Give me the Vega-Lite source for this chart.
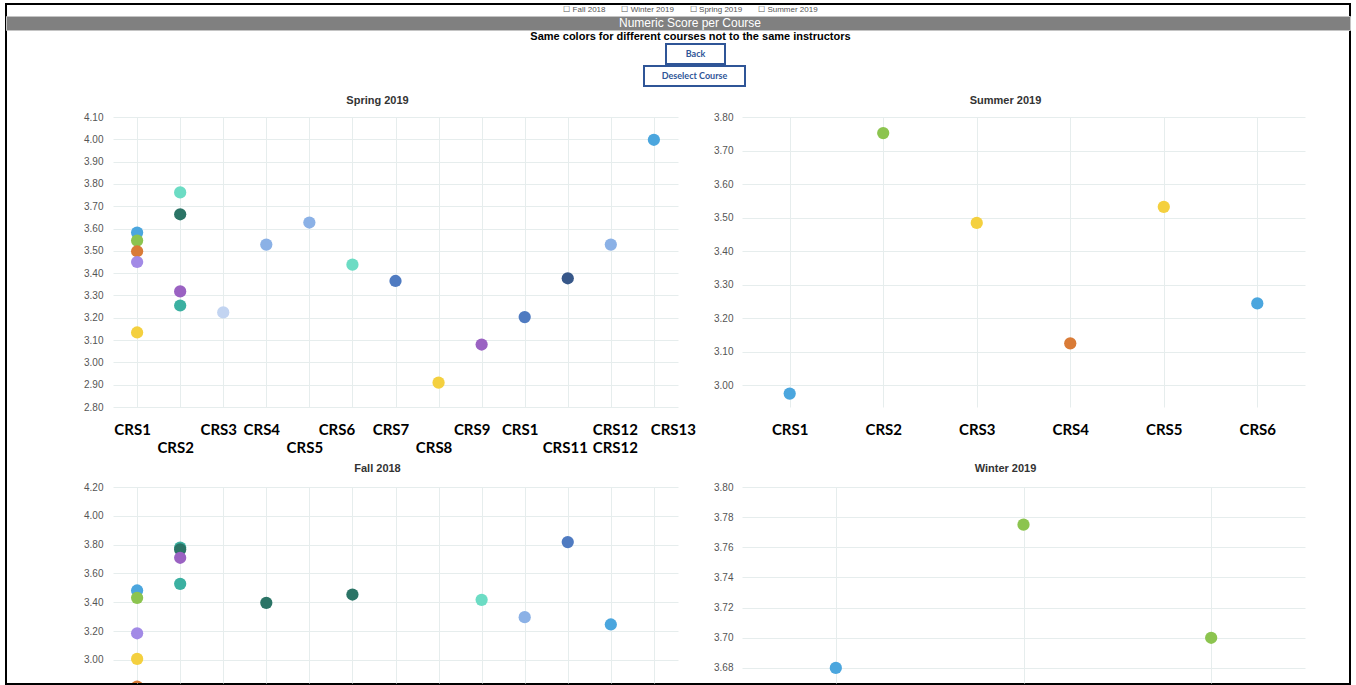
{
  "$schema": "https://vega.github.io/schema/vega-lite/v6.json",
  "padding": {"left": 5, "top": 3, "right": 0, "bottom": 0},
  "background": "white",
  "config": {
    "view": {"stroke": null},
    "title": {"font": "Liberation Sans", "fontSize": 11, "fontWeight": "bold", "color": "#333333"},
    "axis": {"domain": false, "ticks": false, "tickSize": 0, "gridColor": "#e6eded", "gridWidth": 1},
    "axisY": {"labelFont": "Liberation Sans", "labelFontSize": 10, "labelColor": "#555555", "labelPadding": 10},
    "axisX": {"labelFont": "Lato", "labelFontSize": 15, "labelFontWeight": "bold", "labelColor": "#000000", "labelPadding": 15, "labelLineHeight": 18, "labelOverlap": false, "labelBound": false, "labelAngle": 0, "grid": true}
  },
  "datasets": {
    "scores": [
      {"term": "Spring 2019", "course": "CRS1", "instructor": "I1", "score": 3.582},
      {"term": "Spring 2019", "course": "CRS1", "instructor": "I2", "score": 3.546},
      {"term": "Spring 2019", "course": "CRS1", "instructor": "I3", "score": 3.498},
      {"term": "Spring 2019", "course": "CRS1", "instructor": "I4", "score": 3.45},
      {"term": "Spring 2019", "course": "CRS1", "instructor": "I5", "score": 3.134},
      {"term": "Spring 2019", "course": "CRS2", "instructor": "I6", "score": 3.762},
      {"term": "Spring 2019", "course": "CRS2", "instructor": "I7", "score": 3.664},
      {"term": "Spring 2019", "course": "CRS2", "instructor": "I8", "score": 3.318},
      {"term": "Spring 2019", "course": "CRS2", "instructor": "I9", "score": 3.255},
      {"term": "Spring 2019", "course": "CRS3", "instructor": "I10", "score": 3.224},
      {"term": "Spring 2019", "course": "CRS4", "instructor": "I11", "score": 3.528},
      {"term": "Spring 2019", "course": "CRS5", "instructor": "I11", "score": 3.627},
      {"term": "Spring 2019", "course": "CRS6", "instructor": "I6", "score": 3.438},
      {"term": "Spring 2019", "course": "CRS7", "instructor": "I12", "score": 3.365},
      {"term": "Spring 2019", "course": "CRS8", "instructor": "I5", "score": 2.909},
      {"term": "Spring 2019", "course": "CRS9", "instructor": "I8", "score": 3.08},
      {"term": "Spring 2019", "course": "CRS10", "instructor": "I12", "score": 3.203},
      {"term": "Spring 2019", "course": "CRS11", "instructor": "I13", "score": 3.377},
      {"term": "Spring 2019", "course": "CRS12", "instructor": "I11", "score": 3.528},
      {"term": "Spring 2019", "course": "CRS13", "instructor": "I1", "score": 3.998},
      {"term": "Summer 2019", "course": "CRS1", "instructor": "I1", "score": 2.975},
      {"term": "Summer 2019", "course": "CRS2", "instructor": "I2", "score": 3.752},
      {"term": "Summer 2019", "course": "CRS3", "instructor": "I5", "score": 3.484},
      {"term": "Summer 2019", "course": "CRS4", "instructor": "I3", "score": 3.125},
      {"term": "Summer 2019", "course": "CRS5", "instructor": "I5", "score": 3.532},
      {"term": "Summer 2019", "course": "CRS6", "instructor": "I1", "score": 3.244},
      {"term": "Fall 2018", "course": "CRS1", "instructor": "I1", "score": 3.482},
      {"term": "Fall 2018", "course": "CRS1", "instructor": "I2", "score": 3.431},
      {"term": "Fall 2018", "course": "CRS1", "instructor": "I4", "score": 3.185},
      {"term": "Fall 2018", "course": "CRS1", "instructor": "I5", "score": 3.007},
      {"term": "Fall 2018", "course": "CRS1", "instructor": "I3", "score": 2.815},
      {"term": "Fall 2018", "course": "CRS2", "instructor": "I9", "score": 3.78},
      {"term": "Fall 2018", "course": "CRS2", "instructor": "I7", "score": 3.767},
      {"term": "Fall 2018", "course": "CRS2", "instructor": "I8", "score": 3.709},
      {"term": "Fall 2018", "course": "CRS2", "instructor": "I9", "score": 3.528},
      {"term": "Fall 2018", "course": "CRS4", "instructor": "I7", "score": 3.396},
      {"term": "Fall 2018", "course": "CRS6", "instructor": "I7", "score": 3.454},
      {"term": "Fall 2018", "course": "CRS9", "instructor": "I6", "score": 3.417},
      {"term": "Fall 2018", "course": "CRS10", "instructor": "I11", "score": 3.297},
      {"term": "Fall 2018", "course": "CRS11", "instructor": "I12", "score": 3.818},
      {"term": "Fall 2018", "course": "CRS12", "instructor": "I1", "score": 3.246},
      {"term": "Winter 2019", "course": "CRS1", "instructor": "I1", "score": 3.68},
      {"term": "Winter 2019", "course": "CRS2", "instructor": "I2", "score": 3.775},
      {"term": "Winter 2019", "course": "CRS3", "instructor": "I2", "score": 3.7}
    ]
  },
  "columns": 1,
  "align": "none",
  "spacing": -681,
  "concat": [
    {
      "width": 1344,
      "height": 680,
      "view": {"stroke": "#000000", "strokeWidth": 2},
      "data": {"values": [{"t": ""}]},
      "mark": {"type": "text"},
      "encoding": {"text": {"field": "t"}}
    },
    {
      "spacing": 8,
      "vconcat": [
        {
          "spacing": 0,
          "vconcat": [
            {
              "width": 1345,
              "height": 11,
              "data": {"values": [{"label": "☐ Fall 2018\u2003\u2003☐ Winter 2019\u2003\u2003☐ Spring 2019\u2003\u2003☐ Summer 2019"}]},
              "mark": {"type": "text", "font": "Liberation Sans", "fontSize": 8, "color": "#555555", "dx": 12},
              "encoding": {"text": {"field": "label"}}
            },
            {
              "width": 1344,
              "height": 14,
              "view": {"fill": "#808080", "stroke": "#c4c4c4", "strokeWidth": 1},
              "data": {"values": [{"label": "Numeric Score per Course"}]},
              "mark": {"type": "text", "font": "Liberation Sans", "fontSize": 12, "color": "#ffffff", "dx": 12},
              "encoding": {"text": {"field": "label"}}
            },
            {
              "width": 1345,
              "height": 12,
              "data": {"values": [{"label": "Same colors for different courses not to the same instructors"}]},
              "mark": {"type": "text", "font": "Liberation Sans Narrow, Liberation Sans", "fontSize": 11, "fontWeight": "bold", "color": "#000000", "dx": 12},
              "encoding": {"text": {"field": "label"}}
            },
            {
              "spacing": 0,
              "bounds": "flush",
              "hconcat": [
                {
                  "width": 660,
                  "height": 20,
                  "data": {"values": [{"t": ""}]},
                  "mark": {"type": "text"},
                  "encoding": {"text": {"field": "t"}}
                },
                {
                  "width": 59,
                  "height": 20,
                  "view": {"stroke": "#2F5597", "strokeWidth": 2},
                  "data": {"values": [{"label": "Back"}]},
                  "mark": {"type": "text", "font": "Lato", "fontSize": 9, "fontWeight": "bold", "color": "#2F5597"},
                  "encoding": {"text": {"field": "label"}}
                }
              ]
            },
            {
              "spacing": 0,
              "bounds": "flush",
              "hconcat": [
                {
                  "width": 638,
                  "height": 20,
                  "data": {"values": [{"t": ""}]},
                  "mark": {"type": "text"},
                  "encoding": {"text": {"field": "t"}}
                },
                {
                  "width": 101,
                  "height": 20,
                  "view": {"stroke": "#2F5597", "strokeWidth": 2},
                  "data": {"values": [{"label": "Deselect Course"}]},
                  "mark": {"type": "text", "font": "Lato", "fontSize": 9, "fontWeight": "bold", "color": "#2F5597"},
                  "encoding": {"text": {"field": "label"}}
                }
              ]
            }
          ]
        },
        {
          "spacing": 64,
          "bounds": "flush",
          "hconcat": [
            {
              "width": 43,
              "height": 10,
              "data": {"values": [{"t": ""}]},
              "mark": {"type": "text"},
              "encoding": {"text": {"field": "t"}}
            },
            {
              "width": 565,
              "height": 290,
              "title": {"text": "Spring 2019", "frame": "group", "dx": -18, "offset": 6},
              "data": {"name": "scores"},
              "transform": [{"filter": "datum.term === 'Spring 2019'"}],
              "mark": {"type": "circle", "size": 150, "opacity": 1},
              "encoding": {
                "x": {
                  "field": "course", "type": "nominal",
                  "scale": {"type": "point", "padding": 0.56, "domain": ["CRS1", "CRS2", "CRS3", "CRS4", "CRS5", "CRS6", "CRS7", "CRS8", "CRS9", "CRS10", "CRS11", "CRS12", "CRS13"]},
                  "axis": {
                    "title": null,
                    "labelExpr": "indexof(['CRS2','CRS5','CRS8','CRS11'], datum.value) >= 0 ? ['', datum.value] : datum.value === 'CRS10' ? 'CRS1' : datum.value === 'CRS12' ? ['CRS12', 'CRS12'] : datum.value",
                    "labelOffset": {"condition": [{"test": "datum.value === 'CRS6'", "value": -16}, {"test": "datum.value === 'CRS9'", "value": -10}, {"test": "datum.value === 'CRS12'", "value": 4}, {"test": "datum.value === 'CRS11'", "value": -3}, {"test": "datum.value === 'CRS13'", "value": 19}], "value": -5}
                  }
                },
                "y": {
                  "field": "score", "type": "quantitative",
                  "scale": {"domain": [2.8, 4.1], "nice": false, "zero": false},
                  "axis": {"title": null, "format": ".2f", "values": [2.8, 2.9, 3.0, 3.1, 3.2, 3.3, 3.4, 3.5, 3.6, 3.7, 3.8, 3.9, 4.0, 4.1]}
                },
                "color": {
                  "field": "instructor", "type": "nominal", "legend": null,
                  "scale": {"domain": ["I1", "I2", "I3", "I4", "I5", "I6", "I7", "I8", "I9", "I10", "I11", "I12", "I13"], "range": ["#4BA6DE", "#8CC44F", "#D97B37", "#A28AE6", "#F4D03F", "#6CDCC4", "#2B7466", "#9A62C2", "#3BB0A1", "#C2D4F1", "#8BB1E6", "#4F7BC1", "#375789"]}
                }
              }
            },
            {
              "width": 563,
              "height": 290,
              "title": {"text": "Summer 2019", "frame": "group", "dx": -18, "offset": 6},
              "data": {"name": "scores"},
              "transform": [{"filter": "datum.term === 'Summer 2019'"}],
              "mark": {"type": "circle", "size": 150, "opacity": 1},
              "encoding": {
                "x": {
                  "field": "course", "type": "nominal",
                  "scale": {"type": "point", "padding": 0.51, "domain": ["CRS1", "CRS2", "CRS3", "CRS4", "CRS5", "CRS6"]},
                  "axis": {"title": null}
                },
                "y": {
                  "field": "score", "type": "quantitative",
                  "scale": {"domain": [2.935, 3.8], "nice": false, "zero": false},
                  "axis": {"title": null, "format": ".2f", "values": [3.0, 3.1, 3.2, 3.3, 3.4, 3.5, 3.6, 3.7, 3.8], "labelPadding": 9}
                },
                "color": {"field": "instructor", "type": "nominal", "legend": null}
              }
            }
          ]
        },
        {
          "spacing": 64,
          "bounds": "flush",
          "hconcat": [
            {
              "width": 43,
              "height": 10,
              "data": {"values": [{"t": ""}]},
              "mark": {"type": "text"},
              "encoding": {"text": {"field": "t"}}
            },
            {
              "width": 565,
              "height": 196,
              "title": {"text": "Fall 2018", "frame": "group", "dx": -18, "offset": 8},
              "data": {"name": "scores"},
              "transform": [{"filter": "datum.term === 'Fall 2018'"}],
              "mark": {"type": "circle", "size": 150, "opacity": 1, "clip": true},
              "encoding": {
                "x": {
                  "field": "course", "type": "nominal",
                  "scale": {"type": "point", "padding": 0.56, "domain": ["CRS1", "CRS2", "CRS3", "CRS4", "CRS5", "CRS6", "CRS7", "CRS8", "CRS9", "CRS10", "CRS11", "CRS12", "CRS13"]},
                  "axis": {"title": null, "labels": false}
                },
                "y": {
                  "field": "score", "type": "quantitative",
                  "scale": {"domain": [2.84, 4.2], "nice": false, "zero": false},
                  "axis": {"title": null, "format": ".2f", "values": [3.0, 3.2, 3.4, 3.6, 3.8, 4.0, 4.2]}
                },
                "color": {"field": "instructor", "type": "nominal", "legend": null}
              }
            },
            {
              "width": 563,
              "height": 196,
              "title": {"text": "Winter 2019", "frame": "group", "dx": -18, "offset": 8},
              "data": {"name": "scores"},
              "transform": [{"filter": "datum.term === 'Winter 2019'"}],
              "mark": {"type": "circle", "size": 150, "opacity": 1, "clip": true},
              "encoding": {
                "x": {
                  "field": "course", "type": "nominal",
                  "scale": {"type": "point", "padding": 0.5, "domain": ["CRS1", "CRS2", "CRS3"]},
                  "axis": {"title": null, "labels": false}
                },
                "y": {
                  "field": "score", "type": "quantitative",
                  "scale": {"domain": [3.67, 3.8], "nice": false, "zero": false},
                  "axis": {"title": null, "format": ".2f", "values": [3.68, 3.7, 3.72, 3.74, 3.76, 3.78, 3.8], "labelPadding": 9}
                },
                "color": {"field": "instructor", "type": "nominal", "legend": null}
              }
            }
          ]
        }
      ]
    }
  ]
}
